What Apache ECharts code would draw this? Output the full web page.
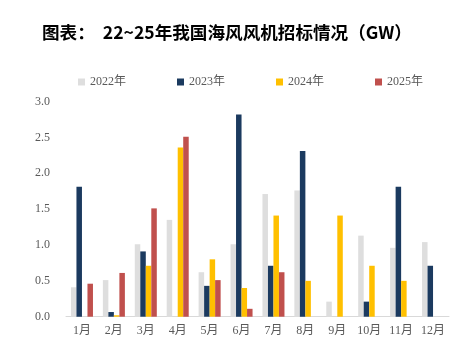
<!DOCTYPE html>
<html><head><meta charset="utf-8">
<script src="https://cdn.jsdelivr.net/npm/echarts@6/dist/echarts.min.js"></script>
<style>html,body{margin:0;padding:0;background:#fff}#c{width:459px;height:347px}</style>
</head><body><div id="c"></div>
<script>
const months = ['1月','2月','3月','4月','5月','6月','7月','8月','9月','10月','11月','12月'];
const seriesNames = ['2022年','2023年','2024年','2025年'];
const v2022 = [0.41,0.51,1.01,1.35,0.62,1.01,1.71,1.76,0.21,1.13,0.96,1.04];
const v2023 = [1.81,0.065,0.91,null,0.43,2.82,0.71,2.31,null,0.21,1.81,0.71];
const v2024 = [null,0.02,0.71,2.36,0.80,0.40,1.41,0.50,1.41,0.71,0.50,null];
const v2025 = [0.46,0.61,1.51,2.51,0.51,0.11,0.62,null,null,null,null,null];
const colors = ['#DEDEDE','#1B3A5F','#FFC000','#C0504D'];
const serifFont = '"Liberation Serif","Noto Sans CJK SC",serif';
const chart = echarts.init(document.getElementById('c'));
const data = [v2022,v2023,v2024,v2025];
chart.setOption({
  animation:false,
  color: colors,
  title:{text:'图表：  22~25年我国海风风机招标情况（GW）',left:37,top:19,
    textStyle:{fontFamily:'"Noto Sans CJK SC",sans-serif',fontWeight:'bold',fontSize:17.6,color:'#000'}},
  legend:{top:71,left:73,itemWidth:7,itemHeight:7,itemGap:51,icon:'rect',
    textStyle:{fontFamily:serifFont,fontSize:12,color:'#595959'},
    data:seriesNames},
  grid:{left:66,right:10,top:101.5,bottom:30.3},
  xAxis:{type:'category',data:months,
    axisLine:{lineStyle:{color:'#D9D9D9'}},axisTick:{show:false},
    axisLabel:{fontFamily:serifFont,fontSize:12,color:'#595959',margin:8}},
  yAxis:{type:'value',min:0,max:3,interval:0.5,
    splitLine:{show:false},axisLine:{show:false},axisTick:{show:false},
    axisLabel:{fontFamily:serifFont,fontSize:12,color:'#595959',margin:16,formatter:v=>v.toFixed(1)}},
  series: seriesNames.map((n,i)=>({name:n,type:'bar',data:data[i],barGap:'0%',barCategoryGap:'31%'}))
});
</script></body></html>
